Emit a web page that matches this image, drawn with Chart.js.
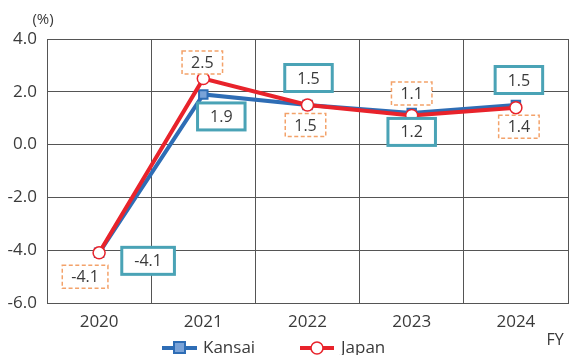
<!DOCTYPE html>
<html>
<head>
<meta charset="utf-8">
<script src="https://cdn.jsdelivr.net/npm/chart.js@4.4.1/dist/chart.umd.min.js"></script>
<style>
  html, body { margin: 0; padding: 0; background: #fff; }
  #wrap { width: 569px; height: 355px; position: relative; }
</style>
</head>
<body>
<div id="wrap"><canvas id="growthChart"></canvas></div>
<script>
// fiscal years and real growth rates (%)
const years = ['2020', '2021', '2022', '2023', '2024'];
const kansai = [-4.1, 1.9, 1.5, 1.2, 1.5];
const japan = [-4.1, 2.5, 1.5, 1.1, 1.4];
const yTicks = [-6, -4, -2, 0, 2, 4];

// where each value box sits relative to its point (dx, dy in px)
const kansaiBoxOffset = [[49, 8], [18, 22], [1, -27], [0, 19], [3, -25]];
const japanBoxOffset = [[-14, 24], [-1, -16], [-2, 20], [0, -22], [3, 19]];

const FONT = '"Open Sans", "Noto Sans", sans-serif';
const TEXT = '#3a3a3a';
const BLUE = '#2e6db5';
const RED = '#e8232b';
const TEAL = '#4aa3b6';
const ORANGE = '#f3a26a';

function drawBox(ctx, x, y, text, solid) {
    ctx.save();
    ctx.font = '16px ' + FONT;
    const w = ctx.measureText(text).width + (solid ? 25 : 18);
    const h = solid ? 27 : 23;
    ctx.fillStyle = '#fff';
    ctx.fillRect(x - w / 2, y - h / 2, w, h);
    if (solid) {
        ctx.strokeStyle = TEAL;
        ctx.lineWidth = 3;
        ctx.setLineDash([]);
    } else {
        ctx.strokeStyle = ORANGE;
        ctx.lineWidth = 1.5;
        ctx.setLineDash([4, 2.5]);
    }
    ctx.strokeRect(x - w / 2, y - h / 2, w, h);
    ctx.fillStyle = TEXT;
    ctx.textAlign = 'center';
    ctx.textBaseline = 'middle';
    ctx.fillText(text, x, y + 1);
    ctx.restore();
}

// value boxes, unit label and the line+marker legend
const annotations = {
    id: 'annotations',
    afterDatasetsDraw(chart) {
        const ctx = chart.ctx;
        const kMeta = chart.getDatasetMeta(0);
        const jMeta = chart.getDatasetMeta(1);
        jMeta.data.forEach((pt, i) => {
            const o = japanBoxOffset[i];
            drawBox(ctx, pt.x + o[0], pt.y + o[1], japan[i].toFixed(1), false);
        });
        kMeta.data.forEach((pt, i) => {
            const o = kansaiBoxOffset[i];
            drawBox(ctx, pt.x + o[0], pt.y + o[1], kansai[i].toFixed(1), true);
        });
    },
    afterDraw(chart) {
        const ctx = chart.ctx;
        ctx.save();
        ctx.fillStyle = TEXT;
        ctx.font = '15px ' + FONT;
        ctx.textAlign = 'center';
        ctx.textBaseline = 'middle';
        ctx.fillText('(%)', 43, 20);
        ctx.font = '16px ' + FONT;
        ctx.fillText('FY', 555, 340);

        // legend
        const ly = 348;
        ctx.lineWidth = 4;
        ctx.strokeStyle = BLUE;
        ctx.beginPath(); ctx.moveTo(162, ly); ctx.lineTo(197, ly); ctx.stroke();
        ctx.fillStyle = '#7aa3d8';
        ctx.lineWidth = 2;
        ctx.fillRect(174, ly - 6, 11, 11);
        ctx.strokeRect(174, ly - 6, 11, 11);
        ctx.strokeStyle = RED;
        ctx.lineWidth = 4;
        ctx.beginPath(); ctx.moveTo(300, ly); ctx.lineTo(334, ly); ctx.stroke();
        ctx.fillStyle = '#fff';
        ctx.lineWidth = 1.5;
        ctx.beginPath(); ctx.arc(317, ly, 6, 0, Math.PI * 2); ctx.fill(); ctx.stroke();

        ctx.fillStyle = TEXT;
        ctx.font = '17px ' + FONT;
        ctx.textAlign = 'left';
        ctx.fillText('Kansai', 203, ly);
        ctx.fillText('Japan', 341, ly);
        ctx.restore();
    }
};

new Chart(document.getElementById('growthChart'), {
    type: 'line',
    data: {
        labels: years,
        datasets: [
            {
                label: 'Kansai',
                data: kansai,
                borderColor: BLUE,
                borderWidth: 4,
                pointStyle: 'rect',
                pointRadius: 6,
                pointBackgroundColor: '#7aa3d8',
                pointBorderColor: BLUE,
                pointBorderWidth: 2,
                tension: 0,
                order: 1
            },
            {
                label: 'Japan',
                data: japan,
                borderColor: RED,
                borderWidth: 4,
                pointStyle: 'circle',
                pointRadius: 6,
                pointBackgroundColor: '#fff',
                pointBorderColor: RED,
                pointBorderWidth: 1.5,
                tension: 0,
                order: 0
            }
        ]
    },
    options: {
        responsive: true,
        maintainAspectRatio: false,
        animation: false,
        layout: { autoPadding: false, padding: { top: 39, right: 1, bottom: 0, left: 0 } },
        plugins: {
            legend: { display: false },
            tooltip: { enabled: false }
        },
        scales: {
            x: {
                offset: true,
                grid: { color: '#555', lineWidth: 1, drawTicks: false, offset: true },
                border: { color: '#555', width: 1 },
                ticks: { color: TEXT, font: { family: FONT, size: 17 }, padding: 9 },
                afterFit(scale) { scale.height = 52; }
            },
            y: {
                min: -6,
                max: 4,
                afterBuildTicks(scale) { scale.ticks = yTicks.map(v => ({ value: v })); },
                grid: { color: '#555', lineWidth: 1, drawTicks: false },
                border: { color: '#555', width: 1 },
                ticks: {
                    color: TEXT,
                    font: { family: FONT, size: 17 },
                    padding: 10,
                    callback: v => v.toFixed(1)
                },
                afterFit(scale) { scale.width = 47; }
            }
        }
    },
    plugins: [annotations]
});
</script>
</body>
</html>
